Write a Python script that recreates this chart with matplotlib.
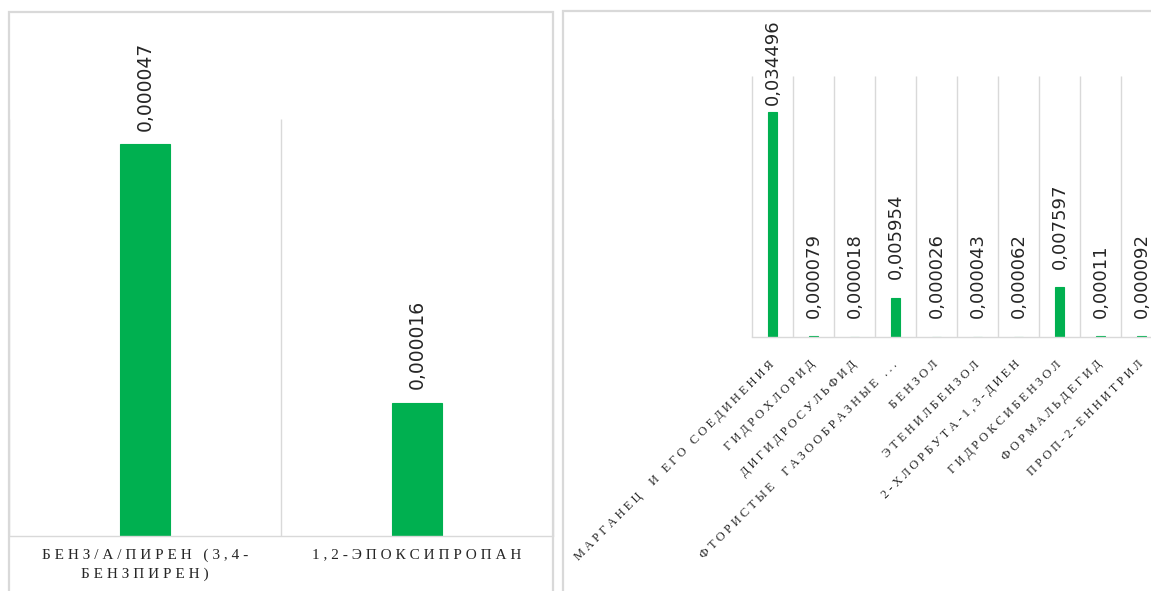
import matplotlib
matplotlib.use("Agg")
import matplotlib.pyplot as plt
from matplotlib.patches import Rectangle
import numpy as np

# ---------------- data ----------------
left_categories = ["БЕНЗ/А/ПИРЕН (3,4-\nБЕНЗПИРЕН)", "1,2-ЭПОКСИПРОПАН"]
left_values = [0.000047, 0.000016]
left_labels = ["0,000047", "0,000016"]

right_categories = [
    "МАРГАНЕЦ  И ЕГО СОЕДИНЕНИЯ",
    "ГИДРОХЛОРИД",
    "ДИГИДРОСУЛЬФИД",
    "ФТОРИСТЫЕ  ГАЗООБРАЗНЫЕ ...",
    "БЕНЗОЛ",
    "ЭТЕНИЛБЕНЗОЛ",
    "2-ХЛОРБУТА-1,3-ДИЕН",
    "ГИДРОКСИБЕНЗОЛ",
    "ФОРМАЛЬДЕГИД",
    "ПРОП-2-ЕННИТРИЛ",
]
right_values = [0.034496, 0.000079, 0.000018, 0.005954, 0.000026,
                0.000043, 0.000062, 0.007597, 0.00011, 0.000092]
right_labels = ["0,034496", "0,000079", "0,000018", "0,005954", "0,000026",
                "0,000043", "0,000062", "0,007597", "0,00011", "0,000092"]

left_ymax = 0.00005
right_ymax = 0.04

# ---------------- style ----------------
W, H, DPI = 1151, 591, 100
GREEN = "#00B050"
GRID = "#D9D9D9"
TEXT = "#262626"
SERIF = ["Liberation Serif", "DejaVu Serif"]
SANS = ["DejaVu Sans"]


def spaced(s):
    # emulate letter spacing of the original labels
    return "\n".join(" ".join(line) for line in s.split("\n"))


def px_rect(x0, y0, x1, y1):
    # pixel box (top-left origin) -> figure fraction [l, b, w, h]
    return [x0 / W, (H - y1) / H, (x1 - x0) / W, (y1 - y0) / H]


fig = plt.figure(figsize=(W / DPI, H / DPI), dpi=DPI)
fig.patch.set_facecolor("white")

# chart borders
for (x0, y0, x1, y1) in [(9, 12, 553, 620), (563, 11, 1220, 620)]:
    l, b, w, h = px_rect(x0, y0, x1, y1)
    fig.add_artist(Rectangle((l, b), w, h, transform=fig.transFigure,
                             fill=False, edgecolor=GRID, linewidth=1.6,
                             clip_on=False))

anns = []


def setup(ax, cats, vals, labs, ymax, width, label_size, gap):
    n = len(cats)
    x = np.arange(n)
    ax.set_xlim(-0.5, n - 0.5)
    ax.set_ylim(0, ymax)
    for s in ["left", "right", "top"]:
        ax.spines[s].set_visible(False)
    ax.spines["bottom"].set_color(GRID)
    ax.spines["bottom"].set_linewidth(1.0)
    ax.set_yticks([])
    ax.vlines(np.arange(n + 1) - 0.5, 0, ymax, color=GRID, linewidth=1.0,
              zorder=1, clip_on=False)
    ax.bar(x, vals, width=width, color=GREEN, edgecolor=GREEN,
           linewidth=0.8, zorder=2)
    for xi, v, t in zip(x, vals, labs):
        a = ax.annotate(t, (xi, v), xytext=(0, gap), textcoords="offset points",
                        rotation=90, ha="center", va="bottom",
                        fontsize=label_size, family=SANS, color=TEXT,
                        annotation_clip=False)
        anns.append((a, gap))
    ax.set_xticks(x)
    ax.tick_params(axis="x", length=0)
    ax.patch.set_alpha(0)


ax1 = fig.add_axes(px_rect(9, 119, 553, 536))
setup(ax1, left_categories, left_values, left_labels, left_ymax, 0.185, 13.5, 9.5)
ax1.set_xticklabels([spaced(c) for c in left_categories], fontsize=11,
                    family=SERIF, color=TEXT, linespacing=1.55)
ax1.tick_params(axis="x", pad=9)

ax2 = fig.add_axes(px_rect(752, 76, 1162, 337))
setup(ax2, right_categories, right_values, right_labels, right_ymax, 0.2, 13, 13.5)
ax2.set_xticklabels([spaced(c) for c in right_categories], fontsize=9,
                    family=SERIF, color=TEXT, rotation=45, ha="right",
                    va="center", rotation_mode="anchor")
ax2.tick_params(axis="x", pad=18.5)

# keep data labels inside the chart area (as the original does)
fig.canvas.draw()
r = fig.canvas.get_renderer()
limit = H - 19
for a, gap in anns:
    bb = a.get_window_extent(r)
    if bb.y1 > limit:
        shift = (bb.y1 - limit) * 72.0 / DPI
        a.xyann = (0, gap - shift)

fig.savefig("out.png", dpi=DPI, facecolor="white")
